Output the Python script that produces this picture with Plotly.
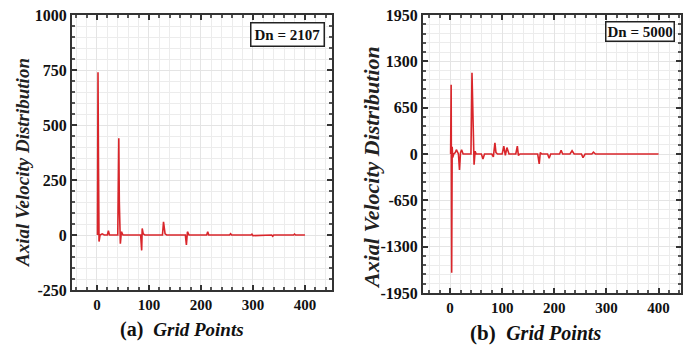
import plotly.graph_objects as go

# Panel (a): Dn = 2107
xa = [1, 2, 3, 4, 6, 10, 14, 20, 22, 24, 40, 42, 43, 44, 45, 47, 50, 84, 86, 87, 89, 92,
      126, 128, 131, 134, 170, 172, 174, 177, 211, 213, 215, 218, 255, 257, 259, 296, 298, 300,
      336, 338, 340, 378, 380, 382, 400]
ya = [0, 740, 300, -30, 0, 5, 0, 0, 20, 0, 0, 440, 150, 20, -40, 15, 0, 0, -70, 30, 5, 0,
      0, 60, 5, 0, 0, -45, 15, 0, 0, 15, 0, 0, 0, 6, 0, 0, 4, -3,
      0, -6, 0, 0, 4, 0, 0]

# Panel (b): Dn = 5000
xb = [1, 2, 3, 4, 5, 7, 10, 12, 16, 18, 20, 22, 25, 28, 40, 42, 44, 46, 48, 50, 55, 60, 63, 66,
      80, 83, 86, 88, 91, 100, 103, 106, 109, 113, 126, 129, 131, 134, 168, 171, 173, 176, 187, 190, 193,
      210, 213, 216, 230, 234, 238, 252, 255, 259, 272, 275, 279, 300, 303, 306, 400]
yb = [0, 970, -1665, 100, -50, 0, 20, 60, 0, -225, 20, 60, 0, 0, 0, 1140, 400, -150, 40, 0, 0, 0, -70, 0,
      0, -40, 155, 20, 0, 0, 110, -20, 90, 0, 0, 110, -20, 0, 0, -140, 20, 0, 0, -60, 0,
      0, 50, 0, 0, 45, 0, 0, -50, 0, 0, 25, 0, 0, 10, 0, 0]

# Tick values / labels
x_ticks = [0, 100, 200, 300, 400]
x_labels = ["0", "100", "200", "300", "400"]
ya_ticks = [-250, 0, 250, 500, 750, 1000]
ya_labels = ["-250", "0", "250", "500", "750", "1000"]
yb_ticks = [-1950, -1300, -650, 0, 650, 1300, 1950]
yb_labels = ["-1950", "-1300", "-650", "0", "650", "1300", "1950"]

red = "#d9262b"
font_fam = "Liberation Serif, Times New Roman, serif"

fig = go.Figure()
fig.add_trace(go.Scatter(x=xa, y=ya, mode="lines", line=dict(color=red, width=1.6),
                         xaxis="x", yaxis="y", showlegend=False))
fig.add_trace(go.Scatter(x=xb, y=yb, mode="lines", line=dict(color=red, width=1.6),
                         xaxis="x2", yaxis="y2", showlegend=False))

def common():
    return dict(ticks="inside", ticklen=5, tickwidth=1.5, tickcolor="#333", mirror="ticks",
                showline=True, linecolor="#333", linewidth=2, automargin=False,
                showgrid=True, gridcolor="#e4e4e4", gridwidth=1,
                tickfont=dict(family=font_fam, size=16, color="#111", weight="bold"),
                zeroline=False)

def xax(domain, anchor, rng):
    d = common()
    d.update(domain=domain, anchor=anchor, range=rng, tickvals=x_ticks, ticktext=x_labels,
             minor=dict(dtick=20, showgrid=True, gridcolor="#ececec", ticks="inside", ticklen=3, tickcolor="#555"))
    d["tickfont"] = dict(family=font_fam, size=15, color="#111", weight="bold")
    return d

def yax(domain, anchor, rng, vals, labels, minor_dt):
    d = common()
    d.update(domain=domain, anchor=anchor, range=rng, tickvals=vals, ticktext=labels,
             minor=dict(dtick=minor_dt, showgrid=True, gridcolor="#ececec", ticks="inside", ticklen=3, tickcolor="#555"))
    return d

fig.update_layout(
    width=683, height=350,
    margin=dict(l=0, r=0, t=0, b=0),
    paper_bgcolor="white", plot_bgcolor="white",
    xaxis=xax([72/683, 332/683], "y", [-48, 452]),
    yaxis=yax([1-290/350, 1-15/350], "x", [-250, 1000], ya_ticks, ya_labels, 50),
    xaxis2=xax([423/683, 681/683], "y2", [-52, 443]),
    yaxis2=yax([1-293/350, 1-15/350], "x2", [-1950, 1950], yb_ticks, yb_labels, 130),
)

def A(x, y, **kw):
    d = dict(x=x/683, y=1-y/350, xref="paper", yref="paper", showarrow=False,
             xanchor="center", yanchor="middle")
    d.update(kw)
    return d

ann = [
    # x titles
    A(182, 329, text="<b>(a)</b>  <b><i><span style='font-size:19px'>Grid Points</span></i></b>",
      font=dict(family=font_fam, size=20, color="#111"), borderpad=0),
    A(535, 333, text="<b>(b)</b>  <b><i><span style='font-size:20px'>Grid Points</span></i></b>",
      font=dict(family=font_fam, size=21, color="#111"), borderpad=0),
    # y titles
    A(22, 163, textangle=-90, text="<b><i>Axial Velocity Distribution</i></b>",
      font=dict(family=font_fam, size=19, color="#222")),
    A(371, 168, textangle=-90, text="<b><i>Axial Velocity Distribution</i></b>",
      font=dict(family=font_fam, size=22, color="#222")),
    # Dn boxes
    A(287, 35, text="<b>Dn = 2107</b>", bordercolor="#222", borderwidth=1.5, borderpad=3,
      bgcolor="white", font=dict(family=font_fam, size=15, color="#111")),
    A(640, 32, text="<b>Dn = 5000</b>", bordercolor="#222", borderwidth=1.5, borderpad=1,
      bgcolor="white", font=dict(family=font_fam, size=15, color="#111")),
]
fig.update_layout(annotations=ann)

fig.write_html("out.html", config={"displayModeBar": False},
               post_script="document.body.style.margin='0';document.body.style.padding='0';")
